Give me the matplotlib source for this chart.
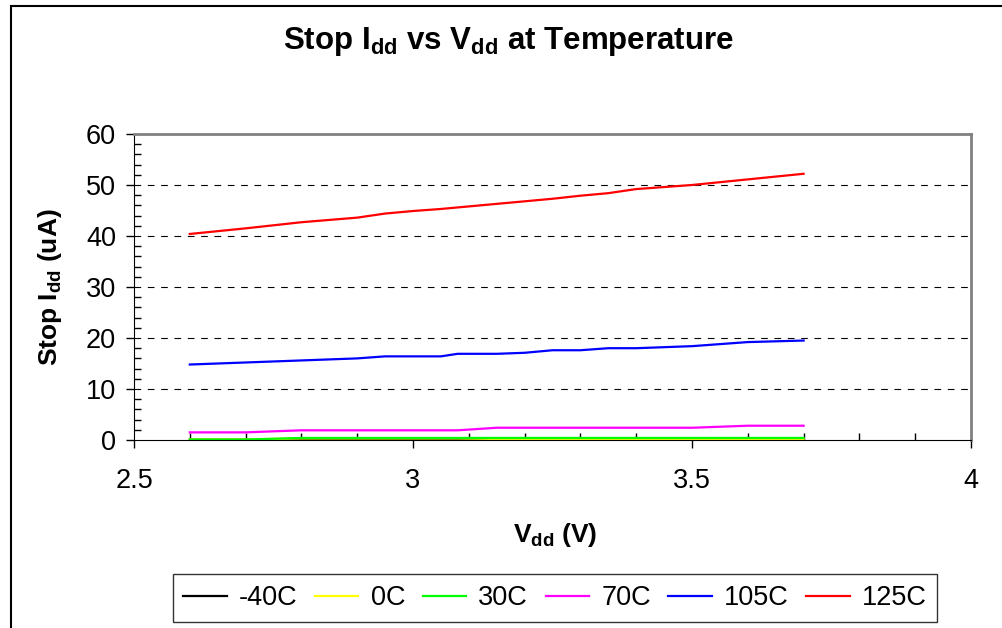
import matplotlib.pyplot as plt
from matplotlib.ticker import MultipleLocator
from matplotlib.patches import Rectangle

plt.rcParams['font.family'] = ['Liberation Sans', 'DejaVu Sans']
plt.rcParams['mathtext.fontset'] = 'custom'
plt.rcParams['mathtext.rm'] = 'Liberation Sans'
plt.rcParams['mathtext.bf'] = 'Liberation Sans:bold'

vdd = [2.6, 2.7, 2.8, 2.9, 2.95, 3.0, 3.05, 3.08, 3.15, 3.2, 3.25, 3.3, 3.35, 3.4, 3.5, 3.6, 3.7]

idd_m40 = [0.05, 0.05, 0.05, 0.05, 0.05, 0.05, 0.05, 0.05, 0.1, 0.1, 0.1, 0.1, 0.1, 0.1, 0.1, 0.1, 0.1]
idd_0 = [0.1, 0.1, 0.3, 0.3, 0.3, 0.3, 0.3, 0.3, 0.2, 0.2, 0.2, 0.2, 0.2, 0.2, 0.2, 0.2, 0.2]
idd_30 = [0.1, 0.1, 0.4, 0.4, 0.4, 0.4, 0.4, 0.4, 0.4, 0.4, 0.4, 0.4, 0.4, 0.4, 0.4, 0.4, 0.4]
idd_70 = [1.5, 1.5, 1.9, 1.9, 1.9, 1.9, 1.9, 1.9, 2.4, 2.4, 2.4, 2.4, 2.4, 2.4, 2.4, 2.8, 2.8]
idd_105 = [14.8, 15.2, 15.6, 16.0, 16.4, 16.4, 16.4, 16.9, 16.9, 17.1, 17.6, 17.6, 18.0, 18.0, 18.4, 19.2, 19.5]
idd_125 = [40.4, 41.5, 42.7, 43.6, 44.4, 44.9, 45.3, 45.6, 46.3, 46.8, 47.3, 47.9, 48.4, 49.2, 50.0, 51.1, 52.2]

series = [idd_m40, idd_0, idd_30, idd_70, idd_105, idd_125]
labels = ['-40C', '0C', '30C', '70C', '105C', '125C']
colors = ['black', '#ffff00', '#00ff00', '#ff00ff', '#0000ff', '#ff0000']

fig = plt.figure(figsize=(10.02, 6.28), dpi=100)
fig.patches.append(Rectangle((11 / 1002, -0.1), 1.2, 1 - 6 / 628 + 0.1, transform=fig.transFigure,
                             fill=False, edgecolor='black', linewidth=1.5))

ax = fig.add_axes([134 / 1002, 1 - 440 / 628, (971 - 134) / 1002, (440 - 134) / 628])

for s, c, lab in zip(series, colors, labels):
    ax.plot(vdd, s, color=c, linewidth=1.6, label=lab)

ax.set_xlim(2.5, 4)
ax.set_ylim(0, 60)
ax.xaxis.set_major_locator(MultipleLocator(0.5))
ax.xaxis.set_minor_locator(MultipleLocator(0.1))
ax.yaxis.set_major_locator(MultipleLocator(10))
ax.yaxis.set_minor_locator(MultipleLocator(2))
ax.xaxis.set_major_formatter(plt.FuncFormatter(lambda v, p: '%g' % v))

ax.tick_params(which='major', direction='out', length=6, width=1, labelsize=19.5, pad=7)
ax.tick_params(which='minor', direction='in', length=5, width=1)
ax.tick_params(axis='x', which='major', pad=14)

for y in [10, 20, 30, 40, 50]:
    ax.axhline(y, color='black', linestyle=(0, (6, 6)), linewidth=0.8, zorder=0)

ax.spines['left'].set_color('black')
ax.spines['bottom'].set_color('black')
ax.spines['top'].set_color('#808080')
ax.spines['right'].set_color('#808080')
ax.spines['top'].set_linewidth(2)
ax.spines['right'].set_linewidth(2)

fig.text(508 / 1002, 1 - 41 / 628, r'Stop I$_\mathbf{dd}$ vs V$_\mathbf{dd}$ at Temperature',
         ha='center', va='center', fontsize=22.5, fontweight='bold')
fig.text(50 / 1002, 1 - 287 / 628, r'Stop I$_\mathbf{dd}$ (uA)', rotation=90,
         ha='center', va='center', fontsize=19, fontweight='bold')
fig.text(555 / 1002, 1 - 535 / 628, r'V$_\mathbf{dd}$ (V)',
         ha='center', va='center', fontsize=19, fontweight='bold')

leg = fig.legend(loc='center', bbox_to_anchor=(555 / 1002, 1 - 598 / 628), ncol=6,
                 fontsize=19.5, frameon=True, fancybox=False, handlelength=1.6,
                 columnspacing=0.65, handletextpad=0.45, borderpad=0.4)
leg.get_frame().set_edgecolor('black')
leg.get_frame().set_linewidth(1)

fig.savefig('out.png', dpi=100)
